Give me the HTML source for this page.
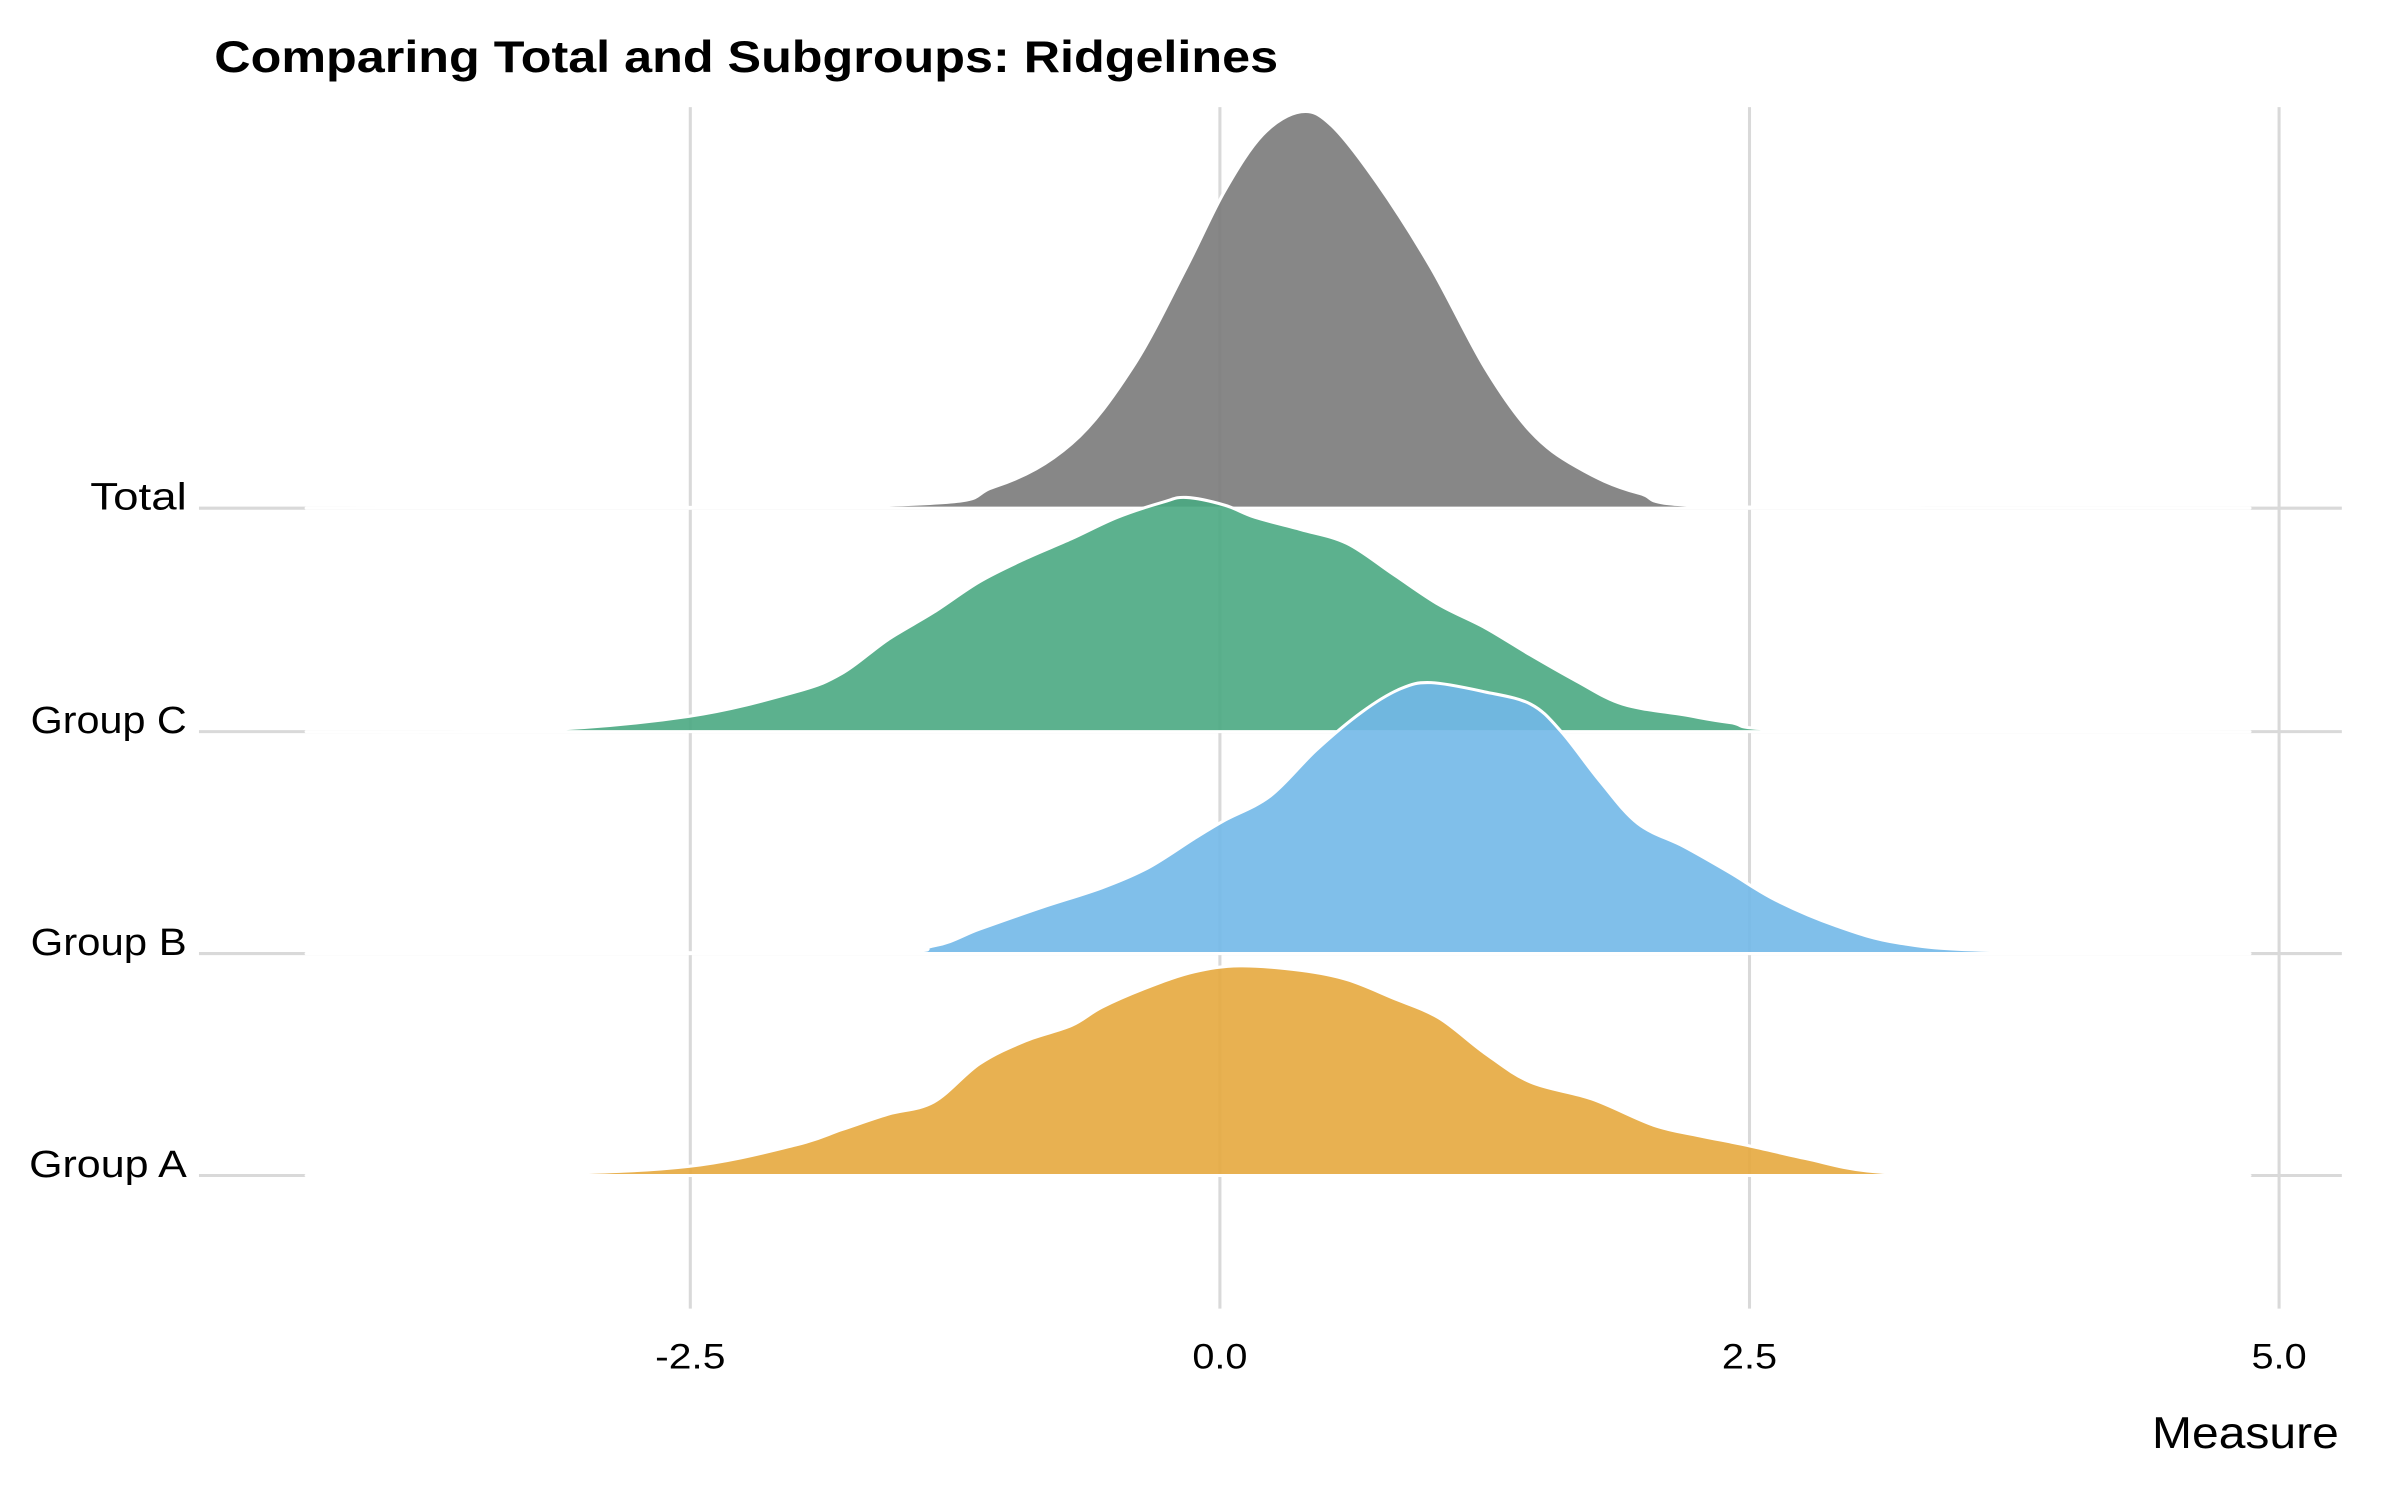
<!DOCTYPE html>
<html><head><meta charset="utf-8"><style>
html,body{margin:0;padding:0;background:#fff;}
svg{display:block;}
text{font-family:"Liberation Sans",sans-serif;}
</style></head><body>
<svg id="s" width="2400" height="1500" viewBox="0 0 1568 980" preserveAspectRatio="none" xmlns="http://www.w3.org/2000/svg">
<rect width="1568" height="980" fill="#fff"/>
<text x="140" y="47" font-size="29" font-weight="bold" textLength="695" lengthAdjust="spacingAndGlyphs">Comparing Total and Subgroups: Ridgelines</text>
<g stroke="#d9d9d9" stroke-width="2">
<line x1="451" y1="70" x2="451" y2="855"/>
<line x1="797" y1="70" x2="797" y2="855"/>
<line x1="1143" y1="70" x2="1143" y2="855"/>
<line x1="1489" y1="70" x2="1489" y2="855"/>
<line x1="130" y1="332" x2="1530" y2="332"/>
<line x1="130" y1="478" x2="1530" y2="478"/>
<line x1="130" y1="623" x2="1530" y2="623"/>
<line x1="130" y1="768" x2="1530" y2="768"/>
</g>
<g id="ridges" stroke="#fff" stroke-width="2" stroke-linejoin="round">
<polygon fill="#7a7a7a" fill-opacity="0.9" points="200,332 580,330 650,318 700,290 740,240 775,175 800,125 825,88 850,73 870,82 900,120 935,175 970,240 1000,282 1030,305 1070,322 1130,331 1470,332"/>
<polygon fill="#4aa882" fill-opacity="0.9" points="200,478 350,477 450,468 520,452 550,440 580,418 610,400 640,380 670,365 700,352 730,338 760,328 775,325 800,330 820,338 850,346 880,355 910,375 940,395 970,410 1000,428 1030,445 1060,460 1100,467 1130,472 1180,477 1470,478"/>
<polygon fill="#72b8e8" fill-opacity="0.9" points="200,623 560,622 610,618 640,607 680,593 720,580 750,567 780,548 800,536 830,520 860,490 890,465 915,450 935,446 970,452 1000,460 1020,478 1045,510 1070,538 1100,553 1130,570 1160,588 1200,605 1240,616 1300,621 1470,623"/>
<polygon fill="#e5a83e" fill-opacity="0.9" points="200,768 350,767 450,762 520,748 550,738 580,728 610,720 640,695 670,680 700,670 720,658 750,645 780,635 810,631 850,634 880,640 910,652 940,665 970,688 1000,707 1040,718 1080,735 1110,742 1140,748 1180,757 1220,765 1280,767 1470,768"/>
</g>
<g font-size="25" text-anchor="end" fill="#000">
<text x="122" y="333" textLength="63" lengthAdjust="spacingAndGlyphs">Total</text>
<text x="122" y="479" textLength="102" lengthAdjust="spacingAndGlyphs">Group C</text>
<text x="122" y="624" textLength="102" lengthAdjust="spacingAndGlyphs">Group B</text>
<text x="122" y="769" textLength="103" lengthAdjust="spacingAndGlyphs">Group A</text>
</g>
<g font-size="23" text-anchor="middle" fill="#000">
<text x="451" y="894" textLength="46" lengthAdjust="spacingAndGlyphs">-2.5</text>
<text x="797" y="894" textLength="36" lengthAdjust="spacingAndGlyphs">0.0</text>
<text x="1143" y="894" textLength="36" lengthAdjust="spacingAndGlyphs">2.5</text>
<text x="1489" y="894" textLength="36" lengthAdjust="spacingAndGlyphs">5.0</text>
</g>
<text x="1528" y="946" font-size="29" text-anchor="end" textLength="122" lengthAdjust="spacingAndGlyphs">Measure</text>
</svg>
<script>
(function(){
var NS="http://www.w3.org/2000/svg";
var polys=document.querySelectorAll('#ridges polygon');
polys.forEach(function(pg){
  var pts=pg.getAttribute('points').trim().split(/\s+/).map(function(p){return p.split(',').map(Number);});
  var d='M'+pts[0][0]+','+pts[0][1];
  for(var i=0;i<pts.length-1;i++){
    var p0=pts[i>0?i-1:0],p1=pts[i],p2=pts[i+1],p3=pts[i+2<pts.length?i+2:i+1];
    var c1x=p1[0]+(p2[0]-p0[0])/6,c1y=p1[1]+(p2[1]-p0[1])/6;
    var c2x=p2[0]-(p3[0]-p1[0])/6,c2y=p2[1]-(p3[1]-p1[1])/6;
    d+=' C'+c1x+','+c1y+' '+c2x+','+c2y+' '+p2[0]+','+p2[1];
  }
  d+='Z';
  var path=document.createElementNS(NS,'path');
  path.setAttribute('d',d);
  path.setAttribute('fill',pg.getAttribute('fill'));
  path.setAttribute('fill-opacity',pg.getAttribute('fill-opacity'));
  pg.parentNode.replaceChild(path,pg);
});
})();
</script>
</body></html>
